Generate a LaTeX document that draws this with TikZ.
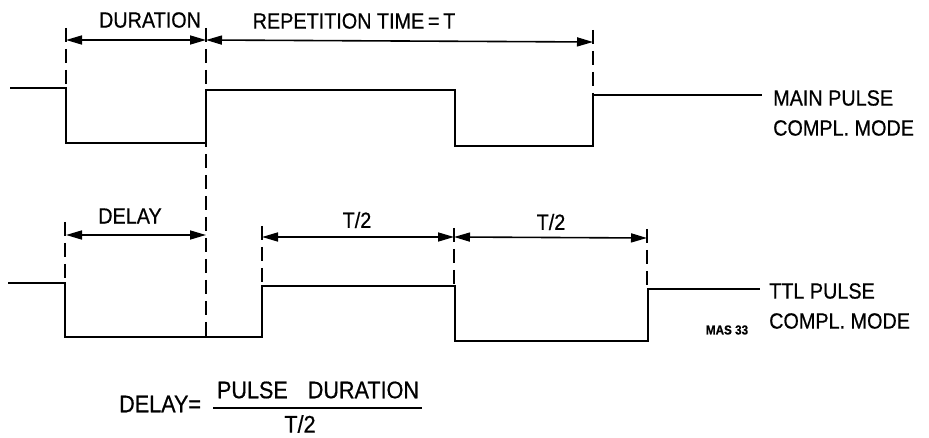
\documentclass[tikz,border=0pt]{standalone}
\usepackage{fontspec}
\setmainfont{Liberation Sans}[FakeStretch=0.9,FakeBold=0.6]
\usepackage{tikz}
\usetikzlibrary{arrows.meta}
\usetikzlibrary{positioning}

\begin{document}
\begin{tikzpicture}[x=1pt,y=-1pt]
  \tikzset{wave/.style = {line width=2.6pt, line join=miter}}
  \tikzset{guide/.style = {line width=2pt, dash pattern=on 14pt off 7pt}}
  \tikzset{tipD/.tip = {Triangle[length=16pt,width=9pt]}}
  \tikzset{dim/.style = {line width=1.6pt, tipD-tipD}}
  \tikzset{lbl/.style = {font=\fontsize{22}{24}\selectfont, inner sep=0pt}}
  \tikzset{sig/.style = {font=\fontsize{22}{30}\selectfont, inner sep=0pt, anchor=west, align=left}}

  \useasboundingbox (0,0) rectangle (929,438);

  % main pulse
  \draw[wave] (10,88) -- (66,88) -- (66,143) -- (206,143) -- (206,90) -- (455,90)
    -- (455,146) -- (593,146) -- (593,95) -- (762,95);
  % ttl pulse
  \draw[wave] (8,283) -- (65,283) -- (65,337) -- (262,337) -- (262,286) -- (455,286)
    -- (455,341) -- (648,341) -- (648,289) -- (760,289);

  % guide lines
  \draw[guide] (66,28) -- (66,87);
  \draw[guide] (206,28) -- (206,340);
  \draw[guide] (593,30) -- (593,94);
  \draw[guide] (65,222) -- (65,282);
  \draw[guide] (262,226) -- (262,285);
  \draw[guide] (454,228) -- (454,285);
  \draw[guide] (647,229) -- (647,288);

  % dimension points
  \coordinate (dA) at (66,40);
  \coordinate (dB) at (206,40);
  \coordinate (dC) at (593,42);
  \coordinate (eA) at (66,235);
  \coordinate (eB) at (206,235);
  \coordinate (eC) at (262,237);
  \coordinate (eD) at (454,237);
  \coordinate (eE) at (647,238);

  \foreach \from/\to in {dA/dB, dB/dC, eA/eB, eC/eD, eD/eE}
    \draw[dim] (\from) -- (\to);

  % labels
  \node[lbl] (duration) at (150,20) {DURATION};
  \node[lbl] (reptime) at (354,21) {REPETITION TIME\,=\,T};
  \node[lbl] (delay) at (130,216) {DELAY};
  \node[lbl] (halfA) at (357,220) {T/2};
  \node[lbl] (halfB) at (551,222) {T/2};

  \node[sig] (mainlbl) at (773,113) {MAIN PULSE\\COMPL. MODE};
  \node[sig] (ttllbl) at (769,306) {TTL PULSE\\COMPL. MODE};
  \node[font=\fontsize{13}{14}\selectfont\bfseries, inner sep=0pt] (mas) at (727,330) {MAS 33};

  % formula
  \node[lbl, font=\fontsize{24}{26}\selectfont, anchor=west] (eqlhs) at (119,404) {DELAY=};
  \node[lbl, font=\fontsize{24}{26}\selectfont] (eqnum) at (318,390) {PULSE\hspace{20pt}DURATION};
  \node[lbl, font=\fontsize{24}{26}\selectfont] (eqden) at (300,424) {T/2};
  \coordinate (barL) at (213,408);
  \coordinate (barR) at (422,408);
  \draw[line width=1.8pt] (barL) -- (barR);
\end{tikzpicture}
\end{document}
